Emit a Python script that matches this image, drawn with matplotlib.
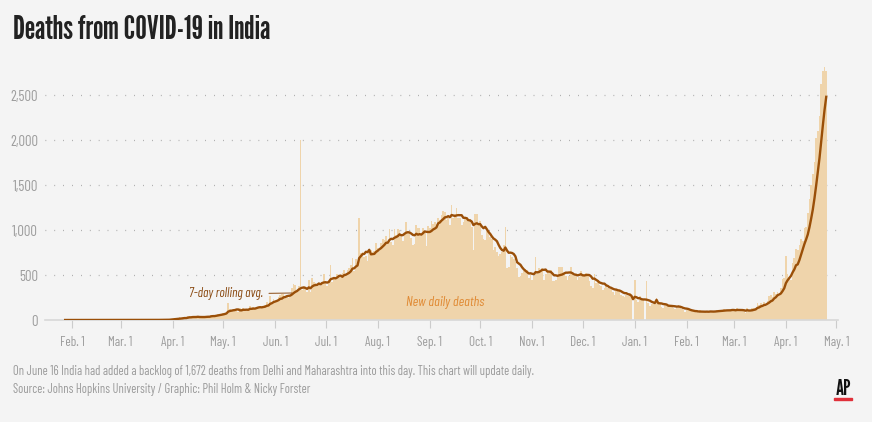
import matplotlib.pyplot as plt
import matplotlib.dates as mdates
import pandas as pd
from matplotlib import font_manager as fm
from matplotlib.patches import Rectangle

# Daily new deaths (Jan 22, 2020 - Apr 26, 2021)
jan20 = [0] * 10
feb20 = [0] * 29
mar20 = [0, 0, 0, 0, 0, 0, 0, 0, 0, 0, 1, 0, 1, 0, 0, 0, 1, 0, 1, 1, 0, 3, 2, 1, 1, 3, 3, 2, 6, 3, 14]
apr20 = [12, 17, 16, 10, 30, 14, 29, 35, 17, 40, 41, 35, 32, 29, 39, 35, 23, 36, 36, 33,
         41, 48, 37, 57, 51, 38, 58, 70, 67, 71]
may20 = [78, 83, 83, 194, 126, 89, 103, 95, 127, 87, 128, 122, 134, 100, 104, 120, 157, 134, 140, 132,
         148, 143, 142, 146, 157, 170, 196, 175, 269, 193, 230]
jun20 = [204, 217, 259, 273, 286, 294, 258, 266, 246, 279, 357, 396, 386, 325, 380, 2003, 336, 375, 366, 306,
         445, 312, 465, 418, 407, 384, 410, 380, 417, 506]
jul20 = [434, 379, 442, 613, 425, 467, 482, 507, 487, 475, 519, 551, 500, 553, 582, 606, 687, 543, 681, 587,
         1129, 740, 757, 705, 708, 654, 768, 779, 758, 771, 853]
aug20 = [803, 771, 857, 904, 886, 933, 861, 1007, 871, 834, 1007, 942, 1007, 996, 941, 876, 944, 1092, 977, 983,
         912, 836, 848, 1059, 1023, 1021, 948, 1021, 970, 819, 1045]
sep20 = [1026, 1096, 1065, 1089, 1065, 1133, 1115, 1172, 1209, 1201, 1114, 1136, 1054, 1283, 1132, 1174, 1247,
         1133, 1130, 1053, 1085, 1129, 1141, 1089, 1124, 1039, 776, 1179, 1181, 1069]
oct20 = [1095, 940, 903, 884, 986, 971, 918, 895, 780, 816, 760, 706, 730, 760, 837, 1033, 579, 587, 717, 702,
         680, 650, 578, 480, 488, 517, 549, 563, 551, 470, 496]
nov20 = [449, 490, 704, 548, 577, 559, 577, 448, 512, 550, 547, 554, 435, 430, 449, 474, 585, 584, 590, 511,
         491, 448, 489, 584, 524, 492, 496, 443, 482, 540]
dec20 = [501, 510, 524, 511, 430, 380, 356, 514, 413, 440, 391, 382, 336, 354, 387, 356, 341, 347, 313, 282,
         340, 333, 336, 278, 264, 258, 276, 265, 301, 256, 0]
jan21 = [448, 226, 201, 264, 224, 235, 0, 434, 190, 160, 180, 175, 180, 250, 175, 181, 145, 137, 162, 151,
         163, 169, 167, 131, 123, 137, 163, 144, 127, 111, 94]
feb21 = [107, 107, 107, 101, 96, 84, 87, 78, 108, 100, 93, 96, 90, 78, 97, 103, 98, 100, 113, 101,
         87, 110, 120, 108, 110, 113, 106, 112]
mar21 = [110, 98, 133, 108, 114, 100, 97, 77, 131, 109, 113, 131, 133, 131, 188, 172, 188, 154, 197, 158,
         212, 271, 275, 251, 312, 291, 312, 271, 354, 459, 469]
apr21 = [714, 513, 478, 446, 630, 685, 794, 780, 839, 904, 879, 1027, 1038, 1185, 1341, 1501, 1619, 1761, 2023,
         2104, 2263, 2624, 2767, 2812, 2771]

backlog_date = '2020-06-16'
backlog = 1672

deaths = (jan20 + feb20 + mar20 + apr20 + may20 + jun20 + jul20 + aug20 + sep20 + oct20
          + nov20 + dec20 + jan21 + feb21 + mar21 + apr21)
dates = pd.date_range('2020-01-22', periods=len(deaths), freq='D')
s = pd.Series(deaths, index=dates, dtype=float)

# rolling average leaves out the June 16 backlog
s_adj = s.copy()
s_adj[backlog_date] -= backlog
rolling = s_adj.rolling(7).mean()


def pick(*names):
    have = {f.name for f in fm.fontManager.ttflist}
    for n in names:
        if n in have:
            return n
    return 'DejaVu Sans'


title_font = pick('League Gothic', 'Oswald', 'Roboto Condensed', 'Liberation Sans Narrow')
body_font = pick('Barlow Condensed', 'Roboto Condensed', 'Archivo Narrow', 'Liberation Sans Narrow')
plt.rcParams['font.family'] = [body_font, 'DejaVu Sans']

bg = '#f4f4f4'
bar_color = '#efd4ab'
line_color = '#9a4f08'
grey = '#9c9c9c'

fig = plt.figure(figsize=(8.72, 4.22), dpi=100, facecolor=bg)
ax = fig.add_axes([45 / 872, 102 / 422, 793 / 872, 260 / 422])
ax.set_facecolor(bg)

ax.bar(s.index, s.values, width=1.0, color=bar_color, linewidth=0, align='center', zorder=2)
ax.plot(rolling.index, rolling.values, color=line_color, lw=1.7, zorder=3)

ax.set_xlim(pd.Timestamp('2020-01-16'), pd.Timestamp('2021-05-02'))
ax.set_ylim(0, 2890)

yticks = [0, 500, 1000, 1500, 2000, 2500]
ax.set_yticks(yticks)
ax.set_yticklabels([f'{v:,}' for v in yticks])
ax.tick_params(axis='y', length=0, pad=5, labelsize=10.5, labelcolor=grey)
for v in yticks[1:]:
    ax.axhline(v, color='#9a9a9a', lw=0.9, ls=(0, (0.6, 6.5)), zorder=1)

ax.xaxis.set_major_locator(mdates.MonthLocator())
ax.xaxis.set_major_formatter(mdates.DateFormatter('%b. 1'))
ax.tick_params(axis='x', length=6, width=0.8, color='#cccccc', pad=5.5, labelsize=9.5, labelcolor=grey)

for side in ['top', 'right', 'left']:
    ax.spines[side].set_visible(False)
ax.spines['bottom'].set_color('#d8d8d8')
ax.spines['bottom'].set_linewidth(1.2)

ax.annotate('7-day rolling avg.', xy=(pd.Timestamp('2020-06-11'), 300),
            xytext=(pd.Timestamp('2020-05-25'), 290), ha='right', va='center',
            fontsize=9.5, style='italic', color='#8a4a12',
            arrowprops=dict(arrowstyle='-', color='#8a4a12', lw=0.7, shrinkA=2, shrinkB=0))
ax.text(pd.Timestamp('2020-09-10'), 200, 'New daily deaths', ha='center', va='center',
        fontsize=10, style='italic', color='#e08a34', zorder=4)

fig.text(13 / 872, 1 - 30 / 422, 'Deaths from COVID-19 in India', family=[title_font, 'DejaVu Sans'],
         fontsize=23.5, color='#222222', va='center', ha='left')
fig.text(13 / 872, 1 - 371 / 422,
         'On June 16 India had added a backlog of 1,672 deaths from Delhi and Maharashtra into this day. '
         'This chart will update daily.', fontsize=9, color='#9a9a9a', va='center')
fig.text(13 / 872, 1 - 390 / 422, 'Source: Johns Hopkins University / Graphic: Phil Holm & Nicky Forster',
         fontsize=9, color='#9a9a9a', va='center')
fig.text(843 / 872, 1 - 389 / 422, 'AP', family=[title_font, 'DejaVu Sans'], fontsize=15,
         color='#111111', ha='center', va='center')
fig.patches.append(Rectangle((834 / 872, 1 - 400 / 422), 18 / 872, 2 / 422,
                             transform=fig.transFigure, color='#e0303a'))

fig.savefig('out.png', dpi=100, facecolor=bg)
